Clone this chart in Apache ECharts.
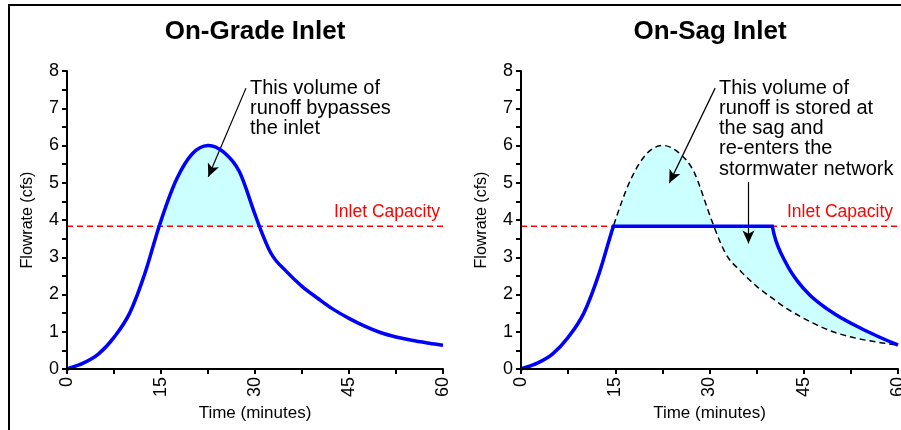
<!DOCTYPE html>
<html><head><meta charset="utf-8">
<script src="https://cdn.jsdelivr.net/npm/echarts@6/dist/echarts.min.js"></script>
<style>html,body{margin:0;padding:0;background:#fff}#c{width:901px;height:430px}</style>
</head><body><div id="c"></div>
<script>
// ---- data ----
const titles = ['On-Grade Inlet', 'On-Sag Inlet'];
const xTicks = [0, 15, 30, 45, 60];
const yTicks = [0, 1, 2, 3, 4, 5, 6, 7, 8];
const capacity = 3.83;
const capacityLabel = 'Inlet Capacity';
// inflow hydrograph (minutes, cfs)
const timeMin = [0, 2.5, 5, 7.5, 10, 12.5, 14.7, 17.5, 20, 22.5, 25, 27.5, 30, 30.7, 32.5, 35, 37.5, 40, 42.5, 45, 47.5, 50, 52.5, 55, 57.5, 60];
const flowCfs = [0, 0.15, 0.4, 0.85, 1.5, 2.6, 3.83, 5.1, 5.78, 6.0, 5.82, 5.3, 4.15, 3.83, 3.12, 2.62, 2.22, 1.9, 1.6, 1.36, 1.15, 0.98, 0.86, 0.77, 0.7, 0.64];
// capacity crossings
const crossUp = 14.7, crossDown = 30.7;
// sag: end of ponded (flat) outflow and its release recession
const flatEnd = 40;
const recTime = [40, 40.3, 41, 42, 43, 44, 46, 48, 50, 54, 57, 60];
const recFlow = [3.83, 3.6, 3.25, 2.9, 2.6, 2.36, 1.98, 1.7, 1.47, 1.1, 0.86, 0.64];
const noteGrade = 'This volume of\nrunoff bypasses\nthe inlet';
const noteSag = 'This volume of\nrunoff is stored at\nthe sag and\nre-enters the\nstormwater network';
// arrows in data units [[t0,q0],[t1,q1]]
const arrowGrade = [[28.56, 7.54], [22.55, 5.16]];
const arrowSag1 = [[30.9, 7.54], [23.6, 4.99]];
const arrowSag2 = [[36.2, 5.02], [36.2, 3.37]];

// ---- helpers ----
const FONT = '"Liberation Sans", Arial, Helvetica, sans-serif';
const BLUE = '#0000ff', CYAN = '#ccffff', RED = '#ff0000';
const capLine = [[xTicks[0], capacity], [xTicks[xTicks.length - 1], capacity]];

function tangents(ts, qs) {
  const n = ts.length, m = new Array(n);
  for (let i = 0; i < n; i++) {
    if (i === 0) m[i] = (qs[1] - qs[0]) / (ts[1] - ts[0]);
    else if (i === n - 1) m[i] = (qs[n - 1] - qs[n - 2]) / (ts[n - 1] - ts[n - 2]);
    else {
      const h0 = ts[i] - ts[i - 1], h1 = ts[i + 1] - ts[i];
      const d0 = (qs[i] - qs[i - 1]) / h0, d1 = (qs[i + 1] - qs[i]) / h1;
      m[i] = (d0 * h1 + d1 * h0) / (h0 + h1);
    }
  }
  return m;
}
const mFlow = tangents(timeMin, flowCfs);
const mRec = tangents(recTime, recFlow);
const iUp = timeMin.indexOf(crossUp), iDown = timeMin.indexOf(crossDown), iEnd = timeMin.length - 1;

function P(api, t, q) { const c = api.coord([t, q]); return c[0].toFixed(2) + ' ' + c[1].toFixed(2); }
// cubic Hermite segments expressed as Bezier curves through the axis scales
function segs(api, ts, qs, m, i0, i1, rev) {
  let s = '';
  if (!rev) {
    for (let i = i0; i < i1; i++) {
      const h = ts[i + 1] - ts[i];
      s += ' C ' + P(api, ts[i] + h / 3, qs[i] + m[i] * h / 3) + ' ' +
        P(api, ts[i + 1] - h / 3, qs[i + 1] - m[i + 1] * h / 3) + ' ' + P(api, ts[i + 1], qs[i + 1]);
    }
  } else {
    for (let i = i1; i > i0; i--) {
      const h = ts[i] - ts[i - 1];
      s += ' C ' + P(api, ts[i] - h / 3, qs[i] - m[i] * h / 3) + ' ' +
        P(api, ts[i - 1] + h / 3, qs[i - 1] + m[i - 1] * h / 3) + ' ' + P(api, ts[i - 1], qs[i - 1]);
    }
  }
  return s;
}
const pathEl = (d, style) => ({ type: 'path', shape: { pathData: d }, style });

function xAx(i) {
  return {
    type: 'value', gridIndex: i, min: 0, max: 60, interval: 7.5, z: 10,
    name: 'Time (minutes)', nameLocation: 'middle', nameGap: 32,
    nameTextStyle: { fontSize: 17, color: '#000', fontFamily: FONT },
    axisLine: { show: true, onZero: false, lineStyle: { color: '#000', width: 2 } },
    axisTick: { show: true, length: 5, lineStyle: { color: '#000', width: 2 } },
    axisLabel: { rotate: 90, margin: 8, fontSize: 18, color: '#000', fontFamily: FONT,
      formatter: v => (xTicks.indexOf(v) >= 0 ? String(v) : '') },
    splitLine: { show: false }
  };
}
function yAx(i) {
  return {
    type: 'value', gridIndex: i, min: 0, max: 8, interval: 0.5, z: 10,
    name: 'Flowrate (cfs)', nameLocation: 'middle', nameGap: 31,
    nameTextStyle: { fontSize: 16, color: '#000', fontFamily: FONT },
    axisLine: { show: true, onZero: false, lineStyle: { color: '#000', width: 2 } },
    axisTick: { show: true, length: 5, lineStyle: { color: '#000', width: 2 } },
    axisLabel: { margin: 8, fontSize: 18, color: '#000', fontFamily: FONT,
      formatter: v => (yTicks.indexOf(v) >= 0 ? String(v) : '') },
    splitLine: { show: false }
  };
}
function arrowML(list) {
  return {
    silent: true, symbol: ['none', 'arrow'], symbolSize: [9, 13], animation: false,
    label: { show: false }, lineStyle: { color: '#000', width: 1.2, type: 'solid' },
    emphasis: { disabled: true },
    data: list.map(a => [{ coord: a[0] }, { coord: a[1] }])
  };
}
const custom = (ax, z, render) => ({
  type: 'custom', xAxisIndex: ax, yAxisIndex: ax, coordinateSystem: 'cartesian2d', z,
  data: [[0, 0]], silent: true, clip: false, animation: false,
  renderItem: (params, api) => ({ type: 'group', children: render(api) })
});
const capSeries = (ax, arrows) => ({
  type: 'line', xAxisIndex: ax, yAxisIndex: ax, data: capLine, showSymbol: false, symbol: 'none',
  silent: true, animation: false, z: 3, lineStyle: { color: RED, width: 1.5, type: [6, 4] },
  markLine: arrowML(arrows)
});

const series = [
  // ---- left: on-grade ----
  custom(0, 1, api => [
    pathEl('M ' + P(api, crossUp, capacity) + segs(api, timeMin, flowCfs, mFlow, iUp, iDown) + ' Z',
      { fill: CYAN, stroke: null })
  ]),
  capSeries(0, [arrowGrade]),
  custom(0, 6, api => [
    pathEl('M ' + P(api, timeMin[0], flowCfs[0]) + segs(api, timeMin, flowCfs, mFlow, 0, iEnd),
      { fill: 'none', stroke: BLUE, lineWidth: 3.5, lineJoin: 'round' })
  ]),
  // ---- right: on-sag ----
  custom(1, 1, api => [
    pathEl('M ' + P(api, crossUp, capacity) + segs(api, timeMin, flowCfs, mFlow, iUp, iDown) + ' Z',
      { fill: CYAN, stroke: null }),
    pathEl('M ' + P(api, crossDown, capacity) + ' L ' + P(api, flatEnd, capacity) +
      segs(api, recTime, recFlow, mRec, 0, recTime.length - 1) +
      segs(api, timeMin, flowCfs, mFlow, iDown, iEnd, true) + ' Z',
      { fill: CYAN, stroke: null })
  ]),
  capSeries(1, [arrowSag1, arrowSag2]),
  custom(1, 6, api => [
    pathEl('M ' + P(api, timeMin[0], flowCfs[0]) + segs(api, timeMin, flowCfs, mFlow, 0, iEnd),
      { fill: 'none', stroke: '#000', lineWidth: 1.5, lineDash: [6, 4] }),
    pathEl('M ' + P(api, timeMin[0], flowCfs[0]) + segs(api, timeMin, flowCfs, mFlow, 0, iUp) +
      ' L ' + P(api, flatEnd, capacity) + segs(api, recTime, recFlow, mRec, 0, recTime.length - 1),
      { fill: 'none', stroke: BLUE, lineWidth: 3.5, lineJoin: 'miter' })
  ])
];

const txt = (x, y, text, style) => ({ type: 'text', x, y, z: 100, silent: true,
  style: Object.assign({ text, fill: '#000', fontFamily: FONT }, style) });

const option = {
  animation: false,
  backgroundColor: '#fff',
  grid: [
    { left: 67, right: 458, top: 71, bottom: 61, containLabel: false, outerBoundsMode: 'none' },
    { left: 521, right: 3, top: 71, bottom: 61, containLabel: false, outerBoundsMode: 'none' }
  ],
  xAxis: [xAx(0), xAx(1)],
  yAxis: [yAx(0), yAx(1)],
  series,
  graphic: [
    { type: 'rect', z: 100, silent: true, shape: { x: 9, y: 5, width: 1200, height: 1200 },
      style: { fill: 'none', stroke: '#000', lineWidth: 2 } },
    txt(255, 32, titles[0], { fontSize: 26, fontWeight: 'bold', align: 'center', verticalAlign: 'middle' }),
    txt(710, 32, titles[1], { fontSize: 26, fontWeight: 'bold', align: 'center', verticalAlign: 'middle' }),
    txt(250, 78, noteGrade, { fontSize: 20, lineHeight: 20, align: 'left', verticalAlign: 'top' }),
    txt(719, 78, noteSag, { fontSize: 20, lineHeight: 20.25, align: 'left', verticalAlign: 'top' }),
    txt(440, 212, capacityLabel, { fontSize: 17.5, fill: RED, align: 'right', verticalAlign: 'middle' }),
    txt(893, 212, capacityLabel, { fontSize: 17.5, fill: RED, align: 'right', verticalAlign: 'middle' })
  ]
};
const chart = echarts.init(document.getElementById('c'), null, { renderer: 'canvas' });
chart.setOption(option);
</script></body></html>
